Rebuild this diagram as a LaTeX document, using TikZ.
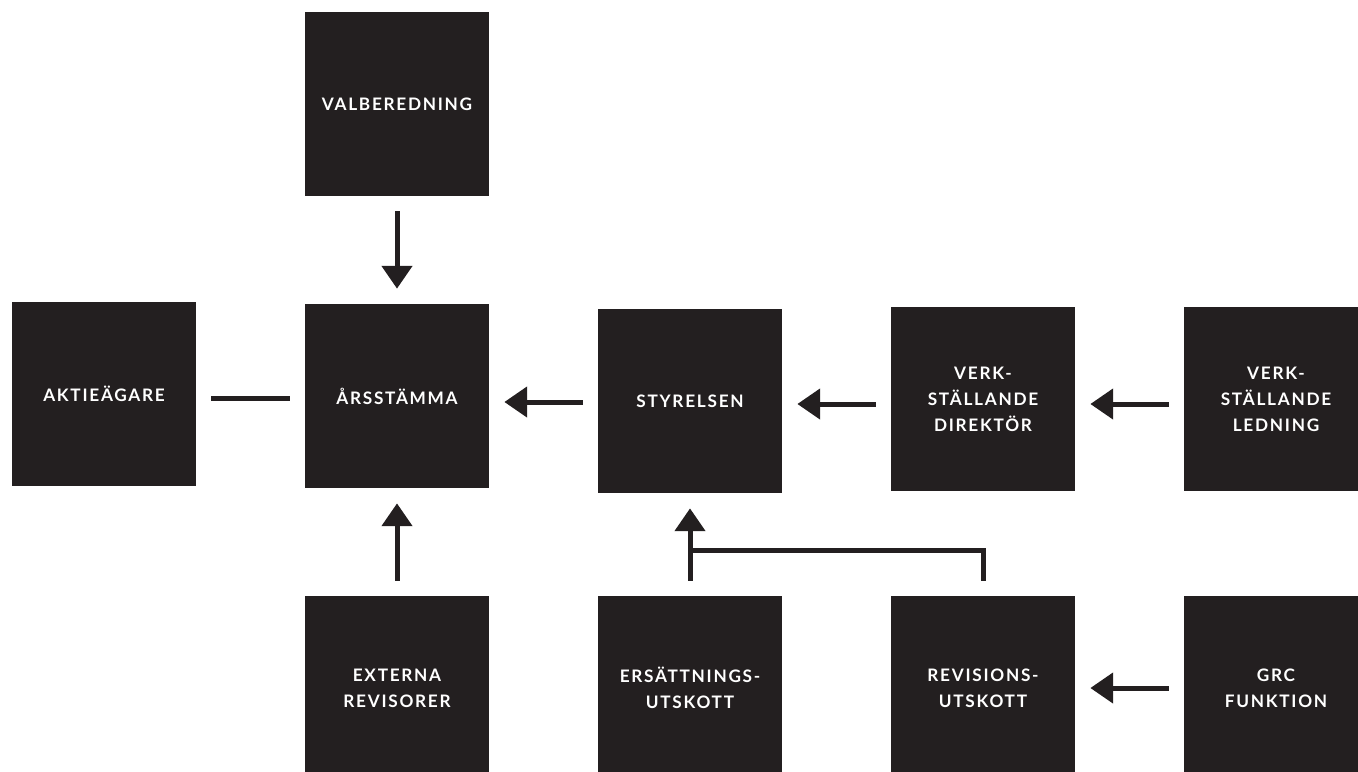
\documentclass[tikz,border=0pt]{standalone}
\usepackage{fontspec}
\newfontfamily\boxfont{Lato}[LetterSpace=10]
\usetikzlibrary{arrows.meta}
\definecolor{boxcol}{RGB}{35,31,32}
\begin{document}
\begin{tikzpicture}[x=0.02cm,y=-0.02cm,
  box/.style={fill=boxcol,text=white,minimum size=3.68cm,inner sep=0pt,
    align=center,font=\boxfont\bfseries\fontsize{9.8}{14.8}\selectfont},
  link/.style={line width=0.1cm,boxcol,shorten <=0.3cm,shorten >=0.3cm},
  arr/.style={link,-{Triangle[width=17pt,length=13pt]}}]
  \useasboundingbox (0,0) rectangle (1358,771);
  \clip (0,0) rectangle (1358,771);
  % top and middle row
  \node[box] (valb) at (397,104) {VALBEREDNING};
  \node[box] (aktie) at (104,394) {AKTIEÄGARE};
  \node[box] (ars) at (397,396) {ÅRSSTÄMMA};
  \node[box] (styr) at (690,401) {STYRELSEN};
  \node[box] (vd) at (983,399) {VERK-\\STÄLLANDE\\DIREKTÖR};
  \node[box] (led) at (1276,399) {VERK-\\STÄLLANDE\\LEDNING};
  % bottom row
  \node[box] (ext) at (397,688) {EXTERNA\\REVISORER};
  \node[box] (ers) at (690,688) {ERSÄTTNINGS-\\UTSKOTT};
  \node[box] (rev) at (983,688) {REVISIONS-\\UTSKOTT};
  \node[box] (grc) at (1276,688) {GRC\\FUNKTION};
  % connectors
  \draw[arr] (valb) -- (ars);
  \draw[link] ([yshift=-0.08cm]aktie.east) -- ([yshift=-0.08cm]aktie.east -| ars.west);
  \draw[arr] ([yshift=-0.02cm]styr.west) -- ([yshift=-0.02cm]styr.west -| ars.east);
  \draw[arr] ([yshift=-0.1cm]vd.west) -- ([yshift=-0.1cm]vd.west -| styr.east);
  \draw[arr] ([yshift=-0.1cm]led.west) -- ([yshift=-0.1cm]led.west -| vd.east);
  \draw[arr] (ext) -- (ars);
  \draw[arr] (ers) -- (styr);
  \coordinate (knee) at (983,550);
  \draw[link,shorten >=0pt] (rev.north) -- (knee) -- (knee -| ers.north);
  \draw[arr] (grc) -- (rev);
\end{tikzpicture}
\end{document}
